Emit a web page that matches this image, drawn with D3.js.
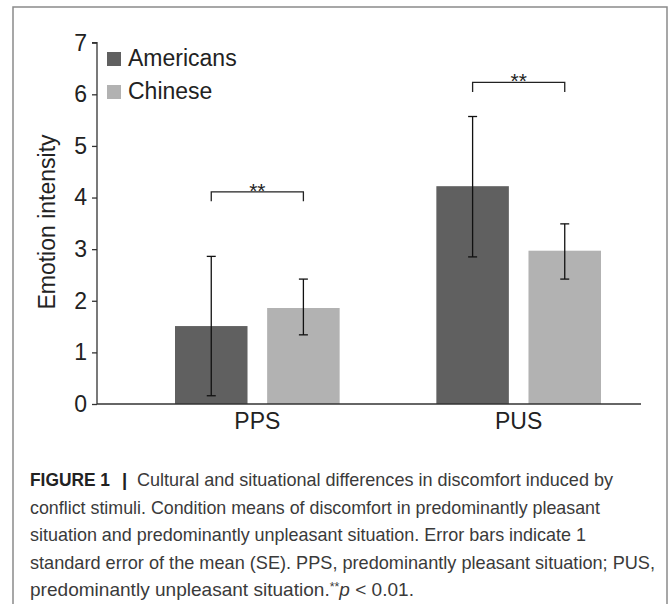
<!DOCTYPE html>
<meta charset="utf-8">
<style>
	body { margin: 0; background: #fff; }
	svg { display: block; }
	.tick text, .lbl { font-family: "Liberation Sans", Arial, sans-serif; fill: #222; }
	.cap { font-family: "Liberation Sans Narrow", "Liberation Sans", Arial, sans-serif; fill: #3a3a3a; font-size: 18.5px; }
</style>
<body>
<svg id="chart" width="669" height="604"></svg>
<script src="https://cdn.jsdelivr.net/npm/d3@7"></script>
<script>
	// data
	var groups = ["PPS", "PUS"];
	var series = ["Americans", "Chinese"];
	var means = [[1.51, 1.86], [4.22, 2.97]];      // [group][series]
	var errLow = [[0.16, 1.34], [2.85, 2.42]];
	var errHigh = [[2.86, 2.42], [5.57, 3.49]];
	var sigY = [4.11, 6.23];                       // bracket heights
	var yTicks = [0, 1, 2, 3, 4, 5, 6, 7];
	var colors = ["#606060", "#b2b2b2"];
	var caption = [
		"Cultural and situational differences in discomfort induced by",
		"conflict stimuli. Condition means of discomfort in predominantly pleasant",
		"situation and predominantly unpleasant situation. Error bars indicate 1",
		"standard error of the mean (SE). PPS, predominantly pleasant situation; PUS,",
		"predominantly unpleasant situation."
	];

	var svg = d3.select("#chart");

	// frame
	svg.append("rect")
		.attr("x", 13).attr("y", 7).attr("width", 654).attr("height", 640)
		.attr("fill", "none").attr("stroke", "#8a8a8a").attr("stroke-width", 1.5);

	var axisX = 97, axisEnd = 641;
	var y = d3.scaleLinear().domain([0, 7]).range([404, 42.7]);
	var x0 = d3.scaleBand().domain(groups).range([175, 601]).paddingInner(0.37);
	var x1 = d3.scaleBand().domain(series).range([0, x0.bandwidth()]).paddingInner(0.213);

	// bars
	groups.forEach(function(g, gi) {
		var gg = svg.append("g").attr("transform", "translate(" + x0(g) + ",0)");
		series.forEach(function(s, si) {
			gg.append("rect")
				.attr("x", x1(s)).attr("width", x1.bandwidth())
				.attr("y", y(means[gi][si])).attr("height", y(0) - y(means[gi][si]))
				.attr("fill", colors[si]);
		});
	});

	// error bars
	groups.forEach(function(g, gi) {
		series.forEach(function(s, si) {
			var cx = x0(g) + x1(s) + x1.bandwidth() / 2;
			var e = svg.append("g").attr("stroke", "#111").attr("stroke-width", 1.3);
			e.append("line").attr("x1", cx).attr("x2", cx)
				.attr("y1", y(errLow[gi][si])).attr("y2", y(errHigh[gi][si]));
			[errLow[gi][si], errHigh[gi][si]].forEach(function(v) {
				e.append("line").attr("x1", cx - 4.5).attr("x2", cx + 4.5)
					.attr("y1", y(v)).attr("y2", y(v));
			});
		});
	});

	// significance brackets
	groups.forEach(function(g, gi) {
		var xa = x0(g) + x1(series[0]) + x1.bandwidth() / 2;
		var xb = x0(g) + x1(series[1]) + x1.bandwidth() / 2;
		var by = y(sigY[gi]);
		svg.append("path")
			.attr("d", "M" + xa + "," + (by + 9.5) + "V" + by + "H" + xb + "V" + (by + 9.5))
			.attr("fill", "none").attr("stroke", "#222").attr("stroke-width", 1.3);
		svg.append("text").attr("class", "lbl")
			.attr("x", (xa + xb) / 2).attr("y", by + 6)
			.attr("text-anchor", "middle").attr("font-size", 21)
			.text("**");
	});

	// y axis
	var yAxis = svg.append("g")
		.attr("transform", "translate(" + axisX + ",0)")
		.call(d3.axisLeft(y).tickValues(yTicks).tickSize(5).tickPadding(5).tickFormat(d3.format("d")));
	yAxis.selectAll("path, line").attr("stroke", "#333").attr("stroke-width", 1.3);
	yAxis.select(".domain").attr("d", "M-5," + y(7) + "H0V" + y(0));
	yAxis.selectAll("text").attr("font-size", 23).attr("font-family", null);

	// x axis line
	svg.append("line")
		.attr("x1", axisX).attr("x2", axisEnd).attr("y1", y(0)).attr("y2", y(0))
		.attr("stroke", "#333").attr("stroke-width", 1.3);
	svg.selectAll(".glabel").data(groups).enter().append("text")
		.attr("class", "lbl")
		.attr("x", function(d) { return x0(d) + x0.bandwidth() / 2; })
		.attr("y", 429).attr("text-anchor", "middle").attr("font-size", 23)
		.text(function(d) { return d; });

	svg.append("text").attr("class", "lbl")
		.attr("transform", "translate(55,222) rotate(-90)")
		.attr("text-anchor", "middle").attr("font-size", 23)
		.text("Emotion intensity");

	// legend
	series.forEach(function(s, i) {
		var ly = 52 + i * 33;
		svg.append("rect").attr("x", 107).attr("y", ly).attr("width", 14).attr("height", 14)
			.attr("fill", colors[i]);
		svg.append("text").attr("class", "lbl")
			.attr("x", 128).attr("y", ly + 13.5).attr("font-size", 23)
			.text(s);
	});

	// caption
	var capY = 486, lh = 27.5;
	var capX = [137, 30, 30, 30, 30];
	var capW = [476, 570, 556, 625, 384];
	svg.append("text").attr("class", "lbl")
		.attr("x", 30).attr("y", capY).attr("font-size", 18.5).attr("font-weight", "bold")
		.attr("textLength", 80).attr("lengthAdjust", "spacingAndGlyphs")
		.text("FIGURE 1");
	svg.append("text").attr("class", "lbl")
		.attr("x", 122).attr("y", capY).attr("font-size", 18.5).attr("font-weight", "bold")
		.text("|");
	caption.forEach(function(line, i) {
		var t = svg.append("text").attr("class", "cap")
			.attr("x", capX[i]).attr("y", capY + i * lh);
		t.append("tspan").text(line);
		if (i === caption.length - 1) {
			t.append("tspan").attr("font-size", 12).attr("dy", -5).text("**");
			t.append("tspan").attr("font-style", "italic").attr("dy", 5).text("p");
			t.append("tspan").text(" < 0.01.");
		}
		t.attr("textLength", capW[i]).attr("lengthAdjust", "spacingAndGlyphs");
	});
</script>
</body>
